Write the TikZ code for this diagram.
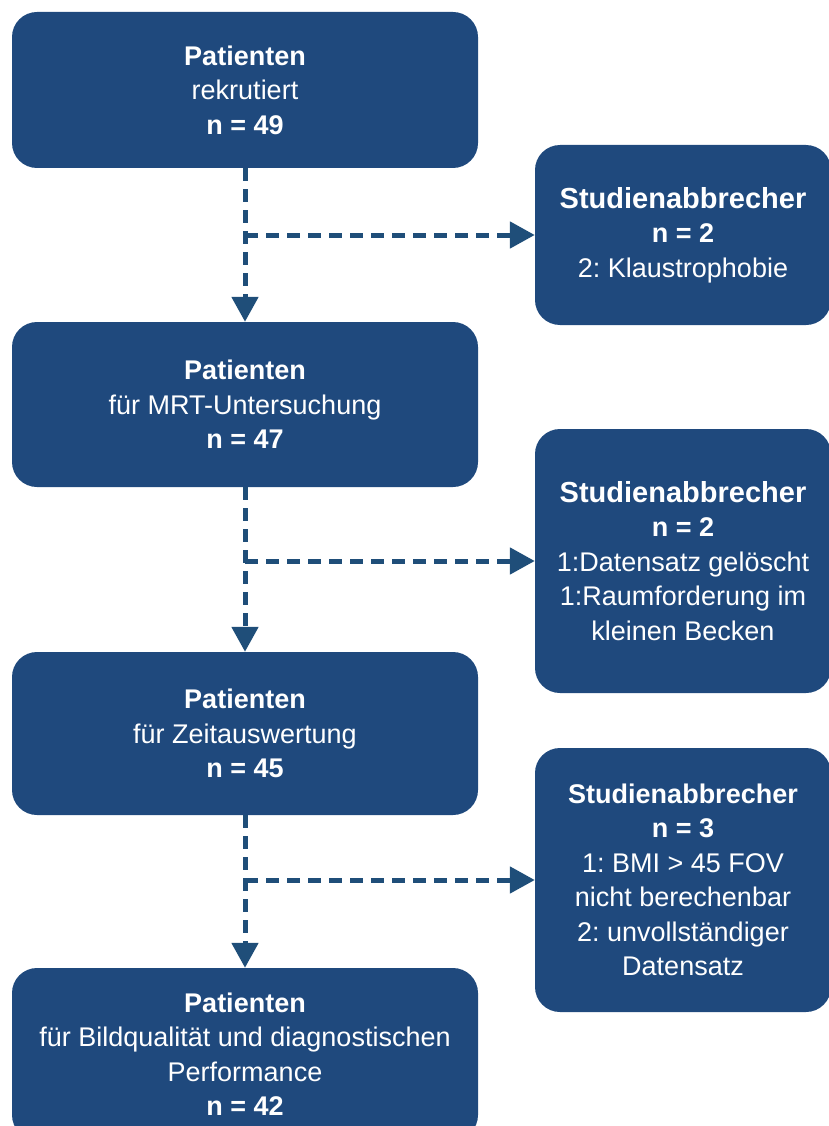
\documentclass[tikz,border=0pt]{standalone}
\usepackage{fontspec}
\setmainfont{Liberation Sans}
\usepackage{tikz}
\usetikzlibrary{arrows.meta}
\definecolor{boxblue}{HTML}{1F497D}
\definecolor{arrowblue}{HTML}{1F4E79}
\frenchspacing

\begin{document}
\begin{tikzpicture}[x=1pt,y=-1pt,
    patbox/.style={rectangle, rounded corners=25pt, fill=boxblue, text=white,
      align=center, inner sep=0pt, minimum width=466pt,
      font=\fontsize{27}{34.5}\selectfont},
    dropbox/.style={patbox, minimum width=296pt},
    flow/.style={draw=arrowblue, line width=5pt, dash pattern=on 13pt off 8pt,
      -{Triangle[length=25pt,width=26pt]}}]
    \useasboundingbox (0,0) rectangle (829,1126);

    % Patienten (linke Spalte)
    \node[patbox, minimum height=156pt] (rekrutiert) at (245,90)
      {\textbf{Patienten}\\rekrutiert\\\textbf{n = 49}};
    \node[patbox, minimum height=165pt] (mrt) at (245,404.5)
      {\textbf{Patienten}\\für MRT-Untersuchung\\\textbf{n = 47}};
    \node[patbox, minimum height=163pt] (zeit) at (245,733.5)
      {\textbf{Patienten}\\für Zeitauswertung\\\textbf{n = 45}};
    \node[patbox, minimum height=172pt] (bild) at (245,1054)
      {\textbf{Patienten}\\für Bildqualität und diagnostischen\\Performance\\\textbf{n = 42}};

    % Studienabbrecher (rechte Spalte)
    \node[dropbox, minimum height=180pt] (abbruch1) at (683,235)
      {{\fontsize{29}{34.5}\selectfont\bfseries Studienabbrecher}\\\textbf{n = 2}\\2: Klaustrophobie};
    \node[dropbox, minimum height=264pt] (abbruch2) at (683,561)
      {{\fontsize{29}{34.5}\selectfont\bfseries Studienabbrecher}\\\textbf{n = 2}\\1:Datensatz gelöscht\\1:Raumforderung im\\kleinen Becken};
    \node[dropbox, minimum height=264pt] (abbruch3) at (683,880)
      {\textbf{Studienabbrecher}\\\textbf{n = 3}\\1: BMI > 45 FOV\\nicht berechenbar\\2: unvollständiger\\Datensatz};

    % Verzweigungspunkte
    \coordinate (split1) at (rekrutiert.south |- abbruch1.west);
    \coordinate (split2) at (mrt.south |- abbruch2.west);
    \coordinate (split3) at (zeit.south |- abbruch3.west);

    % Pfeile
    \draw[flow] (rekrutiert.south) -- (mrt.north);
    \draw[flow] (split1) -- (abbruch1.west);
    \draw[flow] (mrt.south) -- (zeit.north);
    \draw[flow] (split2) -- (abbruch2.west);
    \draw[flow] (zeit.south) -- (bild.north);
    \draw[flow] (split3) -- (abbruch3.west);
\end{tikzpicture}
\end{document}
